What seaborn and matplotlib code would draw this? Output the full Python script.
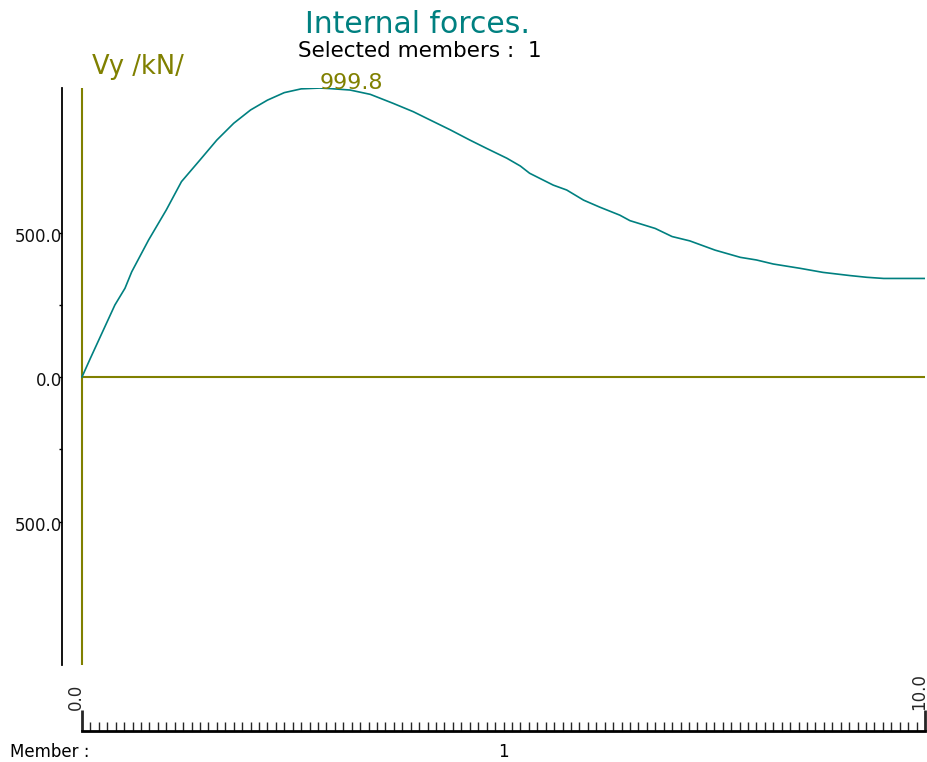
import numpy as np
import pandas as pd
import seaborn as sns
import matplotlib.pyplot as plt
import matplotlib.ticker as ticker
import matplotlib.transforms as mtransforms

# position along member (m) and shear force Vy (kN)
pos = [0, 0.1, 0.39, 0.51, 0.59, 0.79, 1.0, 1.18, 1.4, 1.6, 1.8, 2.0, 2.2, 2.4,
       2.6, 2.82, 2.94, 3.18, 3.42, 3.69, 3.93, 4.09, 4.37, 4.6, 4.8, 5.04, 5.2,
       5.31, 5.59, 5.75, 5.95, 6.14, 6.38, 6.5, 6.8, 7.0, 7.21, 7.51, 7.81, 8.0,
       8.2, 8.52, 8.79, 9.11, 9.31, 9.51, 10.0]
vy = [0, 65, 249, 307, 364, 474, 578, 676, 751, 820, 878, 924, 958, 984,
      997, 999.8, 998, 993, 978, 947, 918, 895, 855, 820, 791, 757, 730,
      705, 664, 647, 612, 588, 560, 541, 514, 486, 471, 439, 414, 405,
      391, 376, 362, 351, 345, 341, 341]

y_major = [-500, 0, 500]
y_minor = [-250, 250]
ruler_labels = [0.0, 10.0]
member = "1"

teal = '#008080'
olive = '#808000'

sns.set_style("white")
plt.rcParams['font.family'] = ['DejaVu Sans']

W, H = 928, 762
fig = plt.figure(figsize=(W / 100, H / 100), dpi=100)

# main diagram
ax = fig.add_axes([62 / W, 1 - 665 / H, (925 - 62) / W, (665 - 88) / H])
df = pd.DataFrame({"x": pos, "Vy": vy})
sns.lineplot(data=df, x="x", y="Vy", color=teal, linewidth=1.2, ax=ax)
ax.axvline(pos[0], color=olive, lw=1.5, zorder=1)
ax.hlines(0, pos[0], pos[-1], color=olive, lw=1.5, zorder=1)

ax.set_xlim(-0.237, 10)
ax.set_ylim(-996.5, 1000)
ax.set_xlabel("")
ax.set_ylabel("")
ax.set_xticks([])
for s in ['top', 'right', 'bottom']:
    ax.spines[s].set_visible(False)
ax.spines['left'].set_color('black')
ax.spines['left'].set_linewidth(1.3)

ax.yaxis.set_major_locator(ticker.FixedLocator(y_major))
ax.yaxis.set_minor_locator(ticker.FixedLocator(y_minor))
ax.yaxis.set_major_formatter(ticker.FuncFormatter(lambda v, p: f"{abs(v):.1f}"))
ax.tick_params(axis='y', which='both', left=True, direction='out', length=2.5,
               width=1, color='black', pad=-2.5, labelsize=12, labelcolor='#111111')
shift = mtransforms.ScaledTranslation(0, -0.02, fig.dpi_scale_trans)
for lab in ax.get_yticklabels():
    lab.set_transform(lab.get_transform() + shift)

# peak value
i = int(np.argmax(vy))
ax.annotate(f"{vy[i]:.1f}", (pos[i], vy[i]), xytext=(0, -1), textcoords='offset points',
            ha='left', va='baseline', color=olive, fontsize=16)

# ruler along the member
ax2 = fig.add_axes([82 / W, 1 - 731 / H, 843 / W, 20 / H])
ax2.set_xlim(0, 10)
ax2.set_ylim(0, 1)
ax2.set_yticks([])
for s in ['top', 'left', 'right']:
    ax2.spines[s].set_visible(False)
ax2.spines['bottom'].set_linewidth(2)
ax2.spines['bottom'].set_color('black')
ax2.xaxis.set_major_locator(ticker.FixedLocator(ruler_labels))
ax2.xaxis.set_minor_locator(ticker.MultipleLocator(0.1))
ax2.xaxis.set_major_formatter(ticker.FormatStrFormatter('%.1f'))
ax2.tick_params(axis='x', which='major', direction='in', length=15, width=2,
                bottom=True, top=False, labelbottom=False, labeltop=True,
                pad=1, labelsize=12, labelrotation=90)
ax2.tick_params(axis='x', which='minor', direction='in', length=6.5, width=1,
                bottom=True, top=False)
rshift = mtransforms.ScaledTranslation(0.03, 0, fig.dpi_scale_trans)
for t in ax2.xaxis.get_major_ticks():
    t.label2.set_horizontalalignment('right')
    t.label2.set_transform(t.label2.get_transform() + rshift)
ax2.patch.set_alpha(0)

# texts
fig.text(418 / W, 1 - 33 / H, "Internal forces.", ha='center', va='baseline',
         color=teal, fontsize=21.5)
fig.text(420 / W, 1 - 57 / H, "Selected members :  1", ha='center', va='baseline',
         color='black', fontsize=15.5)
fig.text(92 / W, 1 - 74 / H, "Vy /kN/", ha='left', va='baseline',
         color=olive, fontsize=18.5)
fig.text(10 / W, 1 - 757 / H, "Member :", ha='left', va='baseline',
         color='black', fontsize=12)
fig.text(503 / W, 1 - 757 / H, member, ha='center', va='baseline',
         color='black', fontsize=12)

plt.savefig('out.png', dpi=100)
